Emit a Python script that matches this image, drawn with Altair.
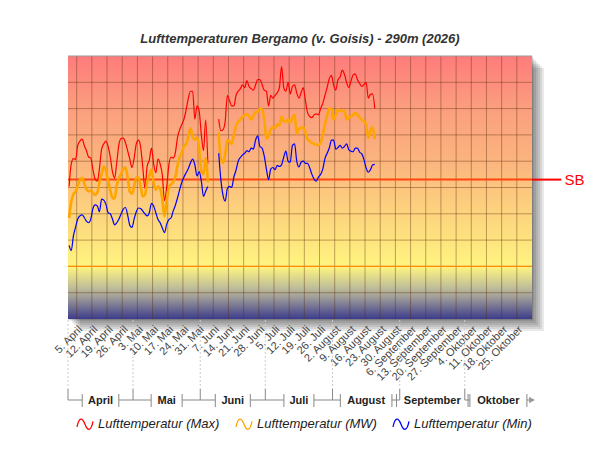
import altair as alt
import pandas as pd

# ---------------- data ----------------
start_date = "2026-04-01"

t_max = [15.2, 19.5, 20.5, 20.3, 23.0, 23.8, 24.2, 23.0, 22.0, 20.8,
         20.6, 18.4, 16.6, 16.2, 18.6, 22.3, 23.3, 23.8, 22.8, 20.8,
         18.0, 16.8, 19.8, 23.2, 24.3, 24.4, 23.5, 22.0, 20.4, 18.8,
         20.6, 23.3, 24.0, 22.7, 18.8, 14.8, 19.0, 20.2, 22.5, 19.5,
         17.8, 20.4, 19.5, 17.4, 12.5, 15.0, 19.2, 20.8, 20.6, 21.6,
         24.5, 26.0, 27.0, 28.0, 29.8, 32.0, 33.3, 33.3, 28.0, 30.5,
         29.5, 25.0, 22.0, 27.8, 19.5, None, None, None, None,
         28.0, 25.8, 26.0, 27.6, 32.5, 31.5, 30.5, 30.5, 32.5, 33.3, 33.8,
         34.5, 34.0, 35.3, 34.2, 33.8, 33.5, 34.5, 35.5, 35.5, 34.6,
         33.5, 33.3, 30.5, 32.5, 32.0, 32.5, 33.0, 34.0, 38.0, 34.0,
         33.3, 35.0, 32.8, 34.2, 34.5, 33.0, 32.0, 33.0, 34.0, 31.5,
         29.2, 28.5, 28.3, 28.8, 29.0, 28.8, 30.0, 31.0, 32.5, 34.0,
         35.7, 36.3, 34.5, 33.5, 35.5, 36.0, 37.3, 36.5, 35.0, 34.0,
         35.2, 36.4, 36.6, 35.5, 34.8, 34.2, 34.6, 35.0, 32.0, 32.7,
         32.8, 30.0]

t_mw = [9.2, 12.3, 13.7, 14.2, 15.3, 16.5, 16.8, 15.8, 14.7, 14.3,
        14.4, 14.0, 13.6, 14.0, 16.0, 17.6, 19.0, 18.3, 16.2, 14.5,
        13.0, 12.9, 15.5, 16.8, 17.6, 18.6, 18.8, 17.0, 14.2, 13.8,
        15.2, 16.9, 16.9, 15.2, 13.3, 13.6, 16.0, 17.2, 18.4, 15.8,
        14.6, 15.2, 14.8, 12.7, 9.5, 12.5, 14.9, 15.6, 16.0, 17.0,
        19.2, 20.8, 21.6, 22.9, 23.3, 24.8, 26.2, 24.6, 24.1, 24.5,
        22.5, 18.0, 17.5, 20.6, 16.0, None, None, None, None,
        25.5, 20.5, 19.7, 21.3, 24.0, 23.7, 23.3, 25.0, 26.8, 27.5, 27.9,
        28.4, 28.8, 28.9, 28.6, 27.9, 28.6, 29.3, 29.4, 30.0, 29.8,
        28.0, 24.3, 24.8, 26.0, 26.5, 26.3, 27.0, 26.8, 28.5, 27.6,
        27.5, 28.0, 27.3, 28.3, 28.8, 25.2, 26.2, 26.3, 26.5, 25.3,
        24.2, 23.8, 23.5, 23.3, 23.1, 23.1, 23.5, 25.0, 27.0, 28.6,
        30.0, 30.0, 27.9, 28.8, 29.8, 29.5, 29.6, 29.6, 27.9, 28.3,
        28.5, 28.8, 29.2, 28.8, 28.3, 27.9, 27.6, 27.0, 24.4, 25.8,
        26.5, 24.2]

t_min = [4.0, 3.0, 5.8, 7.5, 9.0, 9.6, 9.8, 9.3, 8.6, 8.3,
         9.0, 11.0, 11.7, 11.5, 10.4, 12.8, 12.6, 11.8, 10.2, 10.0,
         9.0, 7.9, 8.3, 9.0, 10.0, 10.9, 11.2, 9.8, 7.8, 7.4,
         9.0, 10.4, 11.1, 11.0, 10.5, 10.0, 9.6, 10.2, 12.0, 11.5,
         10.2, 8.9, 8.3, 7.3, 6.4, 8.0, 8.9, 9.2, 10.5, 11.6,
         13.0, 14.6, 16.0, 17.0, 17.8, 18.6, 19.7, 20.4, 19.3, 17.2,
         18.0, 16.2, 13.3, 14.3, 15.2, None, None, None, None,
         21.5, 16.5, 13.5, 12.4, 14.8, 15.2, 15.0, 17.0, 18.3, 20.0, 20.7,
         21.2, 21.5, 22.0, 21.8, 22.5, 22.3, 24.0, 24.8, 22.8, 22.5,
         21.0, 18.5, 16.5, 18.5, 18.8, 18.4, 19.2, 19.0, 19.3, 20.8,
         21.9, 20.0, 19.8, 23.0, 23.3, 20.0, 18.9, 19.8, 20.0, 19.6,
         19.6, 18.7, 17.5, 16.6, 16.2, 17.0, 17.5, 18.5, 20.5, 21.5,
         22.5, 24.0, 24.0, 22.3, 22.6, 23.0, 22.5, 22.8, 23.3, 22.2,
         21.9, 21.8, 22.5, 22.5, 21.7, 21.4, 20.3, 18.7, 17.9, 18.4,
         19.3, 19.4]

series_names = ["Lufttemperatur (Max)", "Lufttemperatur (MW)", "Lufttemperatur (Min)"]
series_colors = ["#ff0000", "#ffa500", "#0000ff"]
series_widths = [1.2, 2.6, 1.2]

month_names = ["April", "Mai", "Juni", "Juli", "August", "September", "Oktober"]
month_starts = ["2026-04-01", "2026-05-01", "2026-06-01", "2026-07-01",
                "2026-08-01", "2026-09-01", "2026-10-01", "2026-11-01"]
month_gap_px = [18.3, 15.5, 17.5, 15.0, 25.8, 35.8, 28.5]
month_de = ["Januar", "Februar", "März", "April", "Mai", "Juni", "Juli", "August",
            "September", "Oktober", "November", "Dezember"]

week_ticks = pd.date_range("2026-04-05", "2026-10-25", freq="7D")
week_labels = [f"{t.day}. {month_de[t.month - 1]}" for t in week_ticks]
y_ticks = list(range(-10, 45, 5))
sb_value = 16.5
sb_label = "SB"
title_text = "Lufttemperaturen Bergamo (v. Goisis) - 290m (2026)"

# ---------------- layout ----------------
W, H = 464, 263
FONT = "Liberation Sans"
domain_start = pd.Timestamp(month_starts[0])
domain_end = pd.Timestamp(month_starts[-1])
n_dom_days = (domain_end - domain_start).days
px_per_day = W / n_dom_days


def iso(ts):
    return pd.Timestamp(ts).strftime("%Y-%m-%dT%H:%M:%S")


x_scale = alt.Scale(domain=[iso(domain_start), iso(domain_end)], nice=False)
y_scale = alt.Scale(domain=[-10, 40], nice=False, zero=False)
XN = dict(scale=x_scale, axis=None)

y_axis = alt.Axis(
    values=y_ticks, grid=False, title="Temperatur [°C]",
    labelFont=FONT, labelFontSize=11, labelColor="#333333",
    tickSize=5, tickColor="#888888", domainColor="#888888",
    labelPadding=2, titleFont=FONT, titleFontSize=14, titleFontWeight="bold",
    titleColor="#111111", titlePadding=9)

# long table of the three series, with segment ids to break at the gap
dates = pd.date_range(start_date, periods=len(t_max), freq="D") + pd.Timedelta(hours=12)
rows = []
for name, vals in zip(series_names, [t_max, t_mw, t_min]):
    seg, prev_none = 0, True
    for d, v in zip(dates, vals):
        if v is None:
            prev_none = True
            continue
        if prev_none:
            seg += 1
            prev_none = False
        rows.append({"date": iso(d), "temp": v, "series": name, "seg": f"{name}-{seg}"})
df = pd.DataFrame(rows)

one = pd.DataFrame({"k": [0]})

# ---------------- shadow ----------------
shadows = [
    alt.Chart(one).mark_rect(color="#000000", opacity=0.085).encode(
        x=alt.value(k), x2=alt.value(W + k), y=alt.value(k), y2=alt.value(H + k))
    for k in [2, 4, 6, 8, 10, 12]
]

# ---------------- background gradient ----------------
bg_df = pd.DataFrame({"x": [iso(domain_start)], "x2": [iso(domain_end)], "y": [40], "y2": [-10]})
grad = alt.LinearGradient(
    gradient="linear", x1=0, x2=0, y1=0, y2=1,
    stops=[
        alt.GradientStop(color="#ff7b7b", offset=0.0),
        alt.GradientStop(color="#fb9f7e", offset=0.2),
        alt.GradientStop(color="#fbb47e", offset=0.4),
        alt.GradientStop(color="#fcc57e", offset=0.5),
        alt.GradientStop(color="#fde07e", offset=0.68),
        alt.GradientStop(color="#fff57f", offset=0.8),
        alt.GradientStop(color="#c8c696", offset=0.87),
        alt.GradientStop(color="#a2a09a", offset=0.915),
        alt.GradientStop(color="#3c3c8c", offset=1.0),
    ])
background = alt.Chart(bg_df).mark_rect(fill=grad).encode(
    x=alt.X("x:T", **XN), x2="x2:T",
    y=alt.Y("y:Q", scale=y_scale, axis=y_axis), y2="y2:Q")

# ---------------- grid ----------------
vgrid = alt.Chart(pd.DataFrame({"d": [iso(t) for t in week_ticks]})).mark_rule(
    color="#5a2a0a", opacity=0.4, strokeWidth=1).encode(x=alt.X("d:T", **XN))
hgrid = alt.Chart(pd.DataFrame({"v": y_ticks[1:-1]})).mark_rule(
    color="#5a2a0a", opacity=0.4, strokeWidth=1).encode(
    y=alt.Y("v:Q", scale=y_scale, axis=None))
topline = alt.Chart(pd.DataFrame({"v": [40]})).mark_rule(
    color="#999999", strokeWidth=1).encode(y=alt.Y("v:Q", scale=y_scale, axis=None))
zero_line = alt.Chart(pd.DataFrame({"v": [0]})).mark_rule(
    color="#ff8a00", strokeWidth=1.2).encode(y=alt.Y("v:Q", scale=y_scale, axis=None))

# ---------------- SB line ----------------
sb_in = alt.Chart(pd.DataFrame({"x": [iso(domain_start)], "x2": [iso(domain_end)], "v": [sb_value]})).mark_rule(
    color="#ff4510", strokeWidth=2).encode(
    x=alt.X("x:T", **XN), x2="x2:T", y=alt.Y("v:Q", scale=y_scale, axis=None))
sb_out = alt.Chart(pd.DataFrame({"x": [iso(domain_end)], "x2": ["2026-11-14T12:00:00"], "v": [sb_value]})).mark_rule(
    color="#ff0000", strokeWidth=2).encode(
    x=alt.X("x:T", **XN), x2="x2:T", y=alt.Y("v:Q", scale=y_scale, axis=None))
sb_text = alt.Chart(pd.DataFrame({"x": ["2026-11-16T00:00:00"], "v": [sb_value], "t": [sb_label]})).mark_text(
    align="left", baseline="middle", font=FONT, fontSize=15, color="#ff0000").encode(
    x=alt.X("x:T", **XN), y=alt.Y("v:Q", scale=y_scale, axis=None), text="t:N")

# ---------------- data lines ----------------
wave = "M-1,0.35 C-0.75,-0.9 -0.35,-0.9 0,0 C0.35,0.9 0.75,0.9 1,-0.35"
color_enc = alt.Color(
    "series:N", scale=alt.Scale(domain=series_names, range=series_colors),
    legend=alt.Legend(
        title=None, orient="none", legendX=8, legendY=359,
        direction="horizontal", labelFont=FONT, labelFontStyle="italic",
        labelFontSize=13, labelColor="#222222", symbolType=wave,
        symbolSize=256, symbolStrokeWidth=1.3, symbolFillColor="transparent",
        columnPadding=13, labelOffset=4))

line_layers = []
for name, w in zip(series_names, series_widths):
    line_layers.append(
        alt.Chart(df[df["series"] == name]).mark_line(interpolate="monotone", strokeWidth=w).encode(
            x=alt.X("date:T", **XN),
            y=alt.Y("temp:Q", scale=y_scale, axis=None),
            color=color_enc,
            detail="seg:N",
        ))

# ---------------- x tick labels (weekly, rotated) ----------------
xlab_df = pd.DataFrame({"x": [iso(t) for t in week_ticks], "t": week_labels})
xlabels = alt.Chart(xlab_df).mark_text(
    angle=315, align="right", baseline="middle", font=FONT, fontSize=11, color="#444444",
    dx=3, dy=3).encode(
    x=alt.X("x:T", **XN), y=alt.value(H + 9), text="t:N")

# ---------------- month band below the axis ----------------
ms = [pd.Timestamp(m) for m in month_starts]
mids, band_rows, gap_rows = [], [], []
for i, name in enumerate(month_names):
    a, b = ms[i], ms[i + 1]
    mid = a + (b - a) / 2
    gap = pd.Timedelta(days=month_gap_px[i] / px_per_day)
    mids.append({"x": iso(mid), "t": name})
    left_end, right_start = mid - gap, mid + gap
    if left_end > a:
        band_rows.append({"x": iso(a), "x2": iso(left_end)})
    if b > right_start:
        band_rows.append({"x": iso(right_start), "x2": iso(b)})
    gap_rows += [{"x": iso(left_end)}, {"x": iso(right_start)}]

bound_df = pd.DataFrame({"x": [iso(m) for m in ms[:-1]]})
BAND_Y = H + 81

dashes = alt.Chart(bound_df).mark_rule(color="#cccccc", strokeDash=[2, 2], strokeWidth=1).encode(
    x=alt.X("x:T", **XN), y=alt.value(H + 1), y2=alt.value(H + 70))
connectors = alt.Chart(bound_df).mark_rule(color="#888888", strokeWidth=1).encode(
    x=alt.X("x:T", **XN), y=alt.value(H + 70), y2=alt.value(BAND_Y))
band = alt.Chart(pd.DataFrame(band_rows)).mark_rule(color="#888888", strokeWidth=1).encode(
    x=alt.X("x:T", **XN), x2="x2:T", y=alt.value(BAND_Y))
gap_ticks = alt.Chart(pd.DataFrame(gap_rows)).mark_rule(color="#888888", strokeWidth=1).encode(
    x=alt.X("x:T", **XN), y=alt.value(BAND_Y - 6), y2=alt.value(BAND_Y + 7))
month_text = alt.Chart(pd.DataFrame(mids)).mark_text(
    font=FONT, fontSize=11, fontWeight="bold", color="#222222", baseline="middle", align="center").encode(
    x=alt.X("x:T", **XN), y=alt.value(BAND_Y + 1), text="t:N")
arrow = alt.Chart(pd.DataFrame({"x": [iso(domain_end)]})).mark_point(
    shape="triangle-right", filled=True, size=45, color="#999999", opacity=1).encode(
    x=alt.X("x:T", **XN), y=alt.value(BAND_Y))

chart = alt.layer(
    *shadows, background, vgrid, hgrid, topline, zero_line, sb_in, sb_out, sb_text,
    *line_layers, xlabels, dashes, connectors, band, gap_ticks, month_text, arrow,
).properties(
    width=W, height=H,
    title=alt.TitleParams(title_text, font=FONT, fontSize=13, fontWeight="bold",
                          fontStyle="italic", color="#333333", offset=10, anchor="middle"),
    autosize=alt.AutoSizeParams(type="none"),
    padding={"left": 60, "top": 48, "right": 60, "bottom": 123},
).configure_view(stroke=None).configure(background="white")

chart.save("out.html", embed_options={"renderer": "svg", "actions": False})
